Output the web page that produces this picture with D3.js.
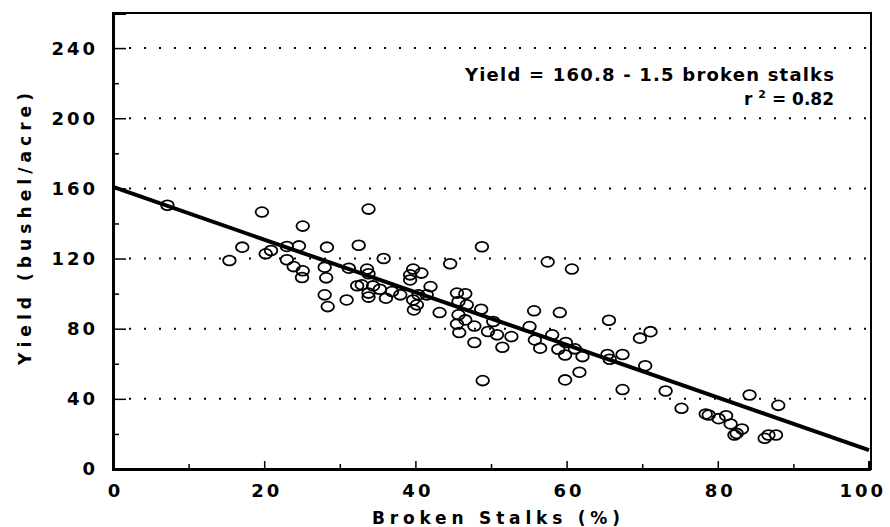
<!DOCTYPE html>
<html>
<head>
<meta charset="utf-8">
<script src="https://cdn.jsdelivr.net/npm/d3@7"></script>
<style>
  body { margin: 0; background: #fff; }
  svg text { font-family: "DejaVu Sans", "Liberation Sans", Arial, sans-serif; font-weight: bold; fill: #000; }
</style>
</head>
<body>
<svg id="chart"></svg>
<script>
// broken stalks (%) and yield (bushel/acre), one entry per field
const brokenStalks = [
  7.2, 19.7, 25.1, 15.4, 17.1, 20.2, 20.9, 23.0, 24.6, 23.0, 23.9, 25.1, 25.0, 28.3, 28.0, 28.2, 28.0, 28.4,
  33.8, 32.5, 35.8, 31.2, 33.6, 33.8, 32.3, 32.9, 34.4, 35.3, 36.9, 33.8, 33.8, 36.1, 30.9, 38.0,
  39.7, 39.3, 40.8, 39.3, 42.0, 40.4, 41.5, 39.7, 40.2, 39.8, 43.2, 44.6, 48.8,
  45.5, 46.6, 45.7, 46.8, 48.7, 45.7, 45.5, 45.8, 46.6, 47.8, 50.3, 49.6, 50.8, 47.8, 51.5, 52.7, 48.9,
  55.7, 59.1, 55.1, 58.1, 55.8, 56.5, 59.9, 58.9, 59.8, 61.1, 62.1, 59.8, 61.7, 57.5, 60.7,
  65.6, 65.4, 67.4, 65.7, 67.4, 69.7, 71.1, 70.4, 73.1, 75.2, 78.4, 78.8, 80.1, 81.1, 81.7, 83.2, 82.5, 82.2, 84.2, 88.0, 86.2, 86.7, 87.7
];
const yieldBu = [
  150.4, 146.5, 138.5, 118.9, 126.5, 122.7, 124.6, 126.9, 127.2, 119.3, 115.4, 113.0, 109.2, 126.5, 115.1, 109.0, 99.3, 92.6,
  148.2, 127.6, 120.0, 114.5, 114.0, 111.3, 104.5, 105.0, 104.4, 102.5, 101.2, 100.3, 98.0, 97.4, 96.4, 99.3,
  114.0, 110.7, 111.7, 107.8, 104.0, 99.3, 99.3, 96.4, 93.6, 90.7, 89.2, 117.0, 126.7,
  100.3, 99.9, 95.5, 93.6, 91.1, 87.9, 82.7, 77.8, 85.0, 81.5, 84.1, 78.4, 76.5, 72.1, 69.4, 75.5, 50.4,
  90.2, 89.2, 81.2, 76.5, 73.6, 68.9, 72.1, 68.3, 65.0, 68.5, 64.1, 50.8, 55.2, 118.1, 114.0,
  84.8, 65.3, 65.3, 62.6, 45.3, 74.6, 78.3, 58.9, 44.5, 34.6, 31.4, 30.8, 28.7, 30.4, 25.7, 22.8, 20.3, 19.4, 42.2, 36.3, 17.5, 19.4, 19.4
];

const xTicks = [0, 20, 40, 60, 80, 100];
const xMinor = [10, 30, 50, 70, 90];
const yTicks = [0, 40, 80, 120, 160, 200, 240];
const yMinor = [20, 60, 100, 140, 180, 220];
const gridLevels = [40, 80, 120, 160, 200, 240];

const intercept = 160.8;
const slope = -1.5;
const rSquared = 0.82;
const fitRange = [0, 100];

const chartSize = {width: 890, height: 527};
const plot = {left: 113, right: 869, top: 13, bottom: 469};

const svg = d3.select("#chart")
  .attr("width", chartSize.width)
  .attr("height", chartSize.height);

const x = d3.scaleLinear().domain([0, 100]).range([plot.left, plot.right]);
const y = d3.scaleLinear().domain([0, 260]).range([plot.bottom, plot.top]);

// dotted grid
svg.append("g")
  .selectAll("line")
  .data(gridLevels)
  .join("line")
  .attr("x1", plot.left + 16)
  .attr("x2", plot.right)
  .attr("y1", d => y(d))
  .attr("y2", d => y(d))
  .attr("stroke", "#000")
  .attr("stroke-width", 2)
  .attr("stroke-dasharray", "2,13");

// frame
svg.append("rect")
  .attr("x", plot.left)
  .attr("y", plot.top)
  .attr("width", plot.right + 2 - plot.left)
  .attr("height", plot.bottom - plot.top)
  .attr("fill", "none")
  .attr("stroke", "#000")
  .attr("stroke-width", 2);

// axes, ticks pointing inwards
svg.append("g")
  .attr("transform", `translate(${plot.left},0)`)
  .call(d3.axisRight(y).tickValues(yTicks).tickSize(13).tickFormat(""))
  .call(g => g.select(".domain").attr("stroke-width", 3));
svg.append("g")
  .attr("transform", `translate(${plot.left},0)`)
  .call(d3.axisRight(y).tickValues(yMinor).tickSize(6).tickFormat(""))
  .call(g => g.select(".domain").remove());

svg.append("g")
  .attr("transform", `translate(0,${plot.bottom})`)
  .call(d3.axisTop(x).tickValues(xTicks).tickSize(8).tickFormat(""))
  .call(g => g.select(".domain").attr("stroke-width", 3));
svg.append("g")
  .attr("transform", `translate(0,${plot.bottom})`)
  .call(d3.axisTop(x).tickValues(xMinor).tickSize(5).tickFormat(""))
  .call(g => g.select(".domain").remove());

svg.selectAll(".tick line").attr("stroke-width", 1.5);

// tick labels
const tickSpacing = 3;
svg.append("g")
  .selectAll("text")
  .data(yTicks)
  .join("text")
  .attr("x", 95 + tickSpacing)
  .attr("y", d => y(d))
  .attr("dy", "0.36em")
  .attr("text-anchor", "end")
  .style("font-size", "18px")
  .style("letter-spacing", tickSpacing + "px")
  .text(d => d);

// last label is pulled in so it stays on the page
svg.append("g")
  .selectAll("text")
  .data(xTicks)
  .join("text")
  .attr("x", d => d === 100 ? chartSize.width - 4 : x(d) + tickSpacing / 2 + 1)
  .attr("y", 497)
  .attr("text-anchor", d => d === 100 ? "end" : "middle")
  .style("font-size", "18px")
  .style("letter-spacing", tickSpacing + "px")
  .text(d => d);

// axis titles
svg.append("text")
  .attr("x", 496)
  .attr("y", 524)
  .attr("text-anchor", "middle")
  .attr("textLength", 248)
  .attr("lengthAdjust", "spacing")
  .style("font-size", "17px")
  .text("Broken Stalks (%)");

svg.append("text")
  .attr("transform", "translate(31,229) rotate(-90)")
  .attr("text-anchor", "middle")
  .attr("textLength", 272)
  .attr("lengthAdjust", "spacing")
  .style("font-size", "17px")
  .text("Yield (bushel/acre)");

// regression line
svg.append("line")
  .attr("x1", x(fitRange[0]))
  .attr("y1", y(intercept + slope * fitRange[0]))
  .attr("x2", x(fitRange[1]))
  .attr("y2", y(intercept + slope * fitRange[1]))
  .attr("stroke", "#000")
  .attr("stroke-width", 4);

// observations
svg.append("g")
  .selectAll("ellipse")
  .data(brokenStalks)
  .join("ellipse")
  .attr("cx", d => x(d))
  .attr("cy", (d, i) => y(yieldBu[i]))
  .attr("rx", 6.3)
  .attr("ry", 4.9)
  .attr("fill", "none")
  .attr("stroke", "#000")
  .attr("stroke-width", 1.8);

// equation
svg.append("text")
  .attr("x", 834)
  .attr("y", 81)
  .attr("text-anchor", "end")
  .attr("textLength", 369)
  .attr("lengthAdjust", "spacing")
  .style("font-size", "18px")
  .text(`Yield = ${intercept} - ${-slope} broken stalks`);

const r2 = svg.append("text")
  .attr("x", 834)
  .attr("y", 105)
  .attr("text-anchor", "end")
  .style("font-size", "17px");
r2.append("tspan").text("r ");
r2.append("tspan").attr("dy", -7).style("font-size", "11px").text("2");
r2.append("tspan").attr("dy", 7).text(` = ${rSquared}`);
</script>
</body>
</html>
